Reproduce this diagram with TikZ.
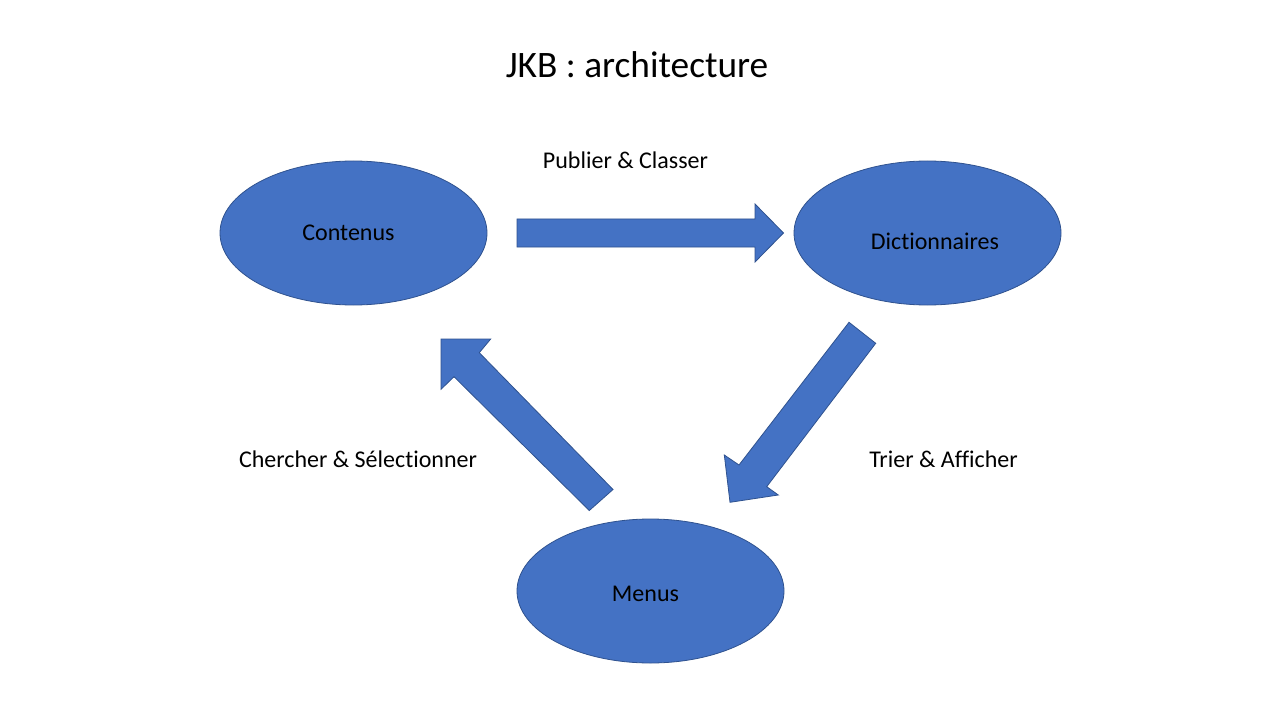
\documentclass[tikz,border=0pt]{standalone}
\usepackage{fontspec}
\setmainfont[Ligatures=NoCommon]{Carlito}
\usetikzlibrary{shapes.geometric}
\definecolor{fillblue}{HTML}{4472C4}
\definecolor{lineblue}{HTML}{2F528F}
\tikzset{
  oval/.style={ellipse, fill=fillblue, draw=lineblue, line width=0.6pt, minimum width=267*0.75pt, minimum height=144*0.75pt, inner sep=0pt},
  blockarrow/.style={fill=fillblue, draw=lineblue, line width=0.6pt, line join=miter},
  lbl/.style={font=\fontsize{18}{22}\selectfont, anchor=base, text=black, inner sep=0pt},
  ttl/.style={font=\fontsize{28}{34}\selectfont, anchor=base, text=black, inner sep=0pt}
}
\begin{document}
\begin{tikzpicture}[x=0.75pt, y=-0.75pt]
\path[use as bounding box, fill=white] (0,0) rectangle (1280,720);
\node[ttl] (title) at (637,78) {JKB : architecture};
% ellipses
\node[oval] (cont) at (353.5,233) {};
\node[oval] (dict) at (927.5,233) {};
\node[oval] (menu) at (650.5,591) {};
\node[lbl] (tcont) at (348.5,240) {Contenus};
\node[lbl] (tdict) at (935,249) {Dictionnaires};
\node[lbl] (tmenu) at (645.5,601) {Menus};
% block arrows
\draw[blockarrow] (517,219) -- (755,219) -- (755,204) -- (783.5,233) -- (755,262) -- (755,247) -- (517,247) -- cycle;
\draw[blockarrow] (849,322.3) -- (875.7,343.3) -- (766.7,486.7) -- (778.3,495) -- (730,502.3) -- (724.3,455) -- (739,465) -- cycle;
\draw[blockarrow] (613,489.5) -- (589.3,510.5) -- (454,376.7) -- (441,389.3) -- (441,339) -- (490.7,339) -- (479.3,352.7) -- cycle;
% labels
\node[lbl] (l1) at (625.5,169) {Publier \& Classer};
\node[lbl] (l2) at (358,467) {Chercher \& Sélectionner};
\node[lbl] (l3) at (943.5,467) {Trier \& Afficher};
\end{tikzpicture}
\end{document}
